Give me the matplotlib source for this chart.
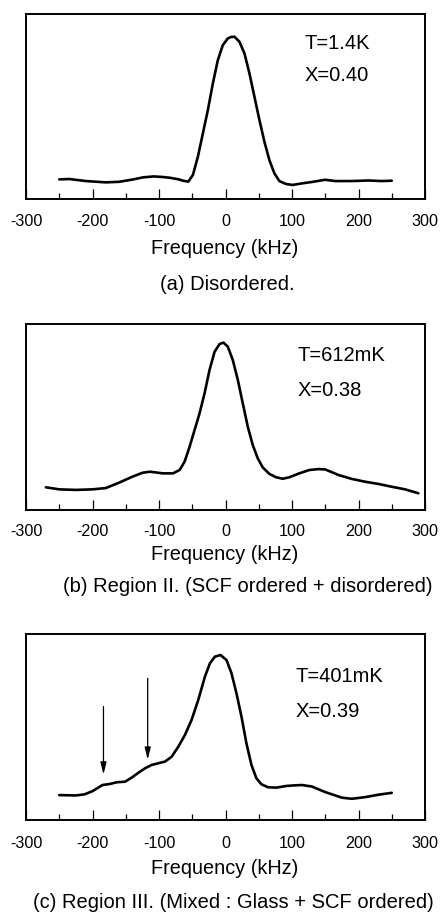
import matplotlib
matplotlib.use("Agg")
import matplotlib.pyplot as plt

plt.rcParams['font.family'] = ['Liberation Sans', 'DejaVu Sans']

# ---------- data (signal as fraction of box height) ----------
freq_a = [-250, -235, -210, -180, -160, -140, -124, -108, -95, -84, -70, -64, -56, -49,
          -41.5, -34, -26.5, -19, -11.5, -4, 3.5, 8.5, 13.5, 21, 28.5, 36, 43.5, 51, 58.5,
          66, 73.5, 81, 91, 101, 116, 130, 150, 165, 190, 215, 235, 250]
sig_a = [0.106, 0.108, 0.097, 0.090, 0.093, 0.105, 0.117, 0.122, 0.119, 0.115, 0.106, 0.099,
         0.094, 0.130, 0.229, 0.355, 0.481, 0.625, 0.751, 0.832, 0.868, 0.876, 0.877, 0.850,
         0.787, 0.679, 0.553, 0.427, 0.310, 0.210, 0.139, 0.097, 0.081, 0.076, 0.085, 0.092,
         0.104, 0.097, 0.097, 0.100, 0.097, 0.099]

freq_b = [-270, -250, -225, -200, -180, -160, -140, -125, -114, -94, -79, -69, -61.5, -54,
          -46.5, -39, -31.5, -24, -16.5, -9, -3, 3.5, 11, 18.5, 26, 33.5, 41, 48.5, 56, 66,
          76, 86, 96, 111, 126, 140, 150, 170, 190, 210, 230, 250, 270, 290]
sig_b = [0.122, 0.111, 0.108, 0.111, 0.118, 0.147, 0.179, 0.200, 0.206, 0.197, 0.197, 0.215,
         0.260, 0.340, 0.430, 0.520, 0.627, 0.753, 0.850, 0.892, 0.900, 0.878, 0.806, 0.700,
         0.573, 0.448, 0.349, 0.278, 0.229, 0.194, 0.176, 0.168, 0.176, 0.197, 0.215, 0.220,
         0.218, 0.188, 0.167, 0.152, 0.140, 0.125, 0.111, 0.090]

freq_c = [-250, -225, -212, -200, -185, -173.5, -163.5, -151, -141, -131, -121, -111, -101,
          -91, -81, -71, -61, -51, -41, -31, -23.5, -16, -7.5, 1.5, 9, 16.5, 24, 31.5, 39,
          46.5, 54, 64, 76.5, 91.5, 103, 115, 130, 150, 175, 190, 210, 230, 250]
sig_c = [0.134, 0.132, 0.138, 0.155, 0.188, 0.194, 0.203, 0.206, 0.228, 0.254, 0.278, 0.296,
         0.305, 0.314, 0.340, 0.394, 0.457, 0.538, 0.645, 0.770, 0.842, 0.878, 0.887, 0.860,
         0.789, 0.681, 0.556, 0.412, 0.296, 0.224, 0.192, 0.176, 0.174, 0.183, 0.186, 0.188,
         0.180, 0.150, 0.120, 0.114, 0.123, 0.136, 0.146]

# arrows in panel (c): x, y start, y end
arrow_x = [-183.5, -117]
arrow_top = [0.61, 0.762]
arrow_tip = [0.245, 0.325]

labels_T = ["T=1.4K", "T=612mK", "T=401mK"]
labels_X = ["X=0.40", "X=0.38", "X=0.39"]
captions = ["(a) Disordered.",
            "(b) Region II. (SCF ordered + disordered)",
            "(c) Region III. (Mixed : Glass + SCF ordered)"]
ticks_major = [-300, -200, -100, 0, 100, 200, 300]
ticks_minor = [-250, -150, -50, 50, 150, 250]

# ---------- layout (pixels of a 440x923 image) ----------
W, H = 440, 923
fig = plt.figure(figsize=(4.4, 9.23), dpi=100)

box_top = [14, 324, 634]
box_bot = [199, 510, 820]
txt_pos = [(118.5, 0.84, 0.67), (108.5, 0.833, 0.645), (105.5, 0.771, 0.584)]
ticklab_y = [222, 532, 843]
xlabel_y = [248, 555, 868]
caption_xy = [(227, 285), (248, 587), (233, 903)]

data = [(freq_a, sig_a), (freq_b, sig_b), (freq_c, sig_c)]

for i in range(3):
    ax = fig.add_axes([26 / W, 1 - box_bot[i] / H, 399 / W, (box_bot[i] - box_top[i]) / H])
    fx, sy = data[i]
    ax.plot(fx, sy, color='black', lw=1.9, solid_joinstyle='round', solid_capstyle='round')
    ax.set_xlim(-300, 300)
    ax.set_ylim(0, 1)
    ax.set_yticks([])
    ax.set_xticks(ticks_major)
    ax.set_xticks(ticks_minor, minor=True)
    ax.set_xticklabels([])
    ax.tick_params(axis='x', which='major', direction='in', length=7.5, width=0.9)
    ax.tick_params(axis='x', which='minor', direction='in', length=4.3, width=0.9)
    for s in ax.spines.values():
        s.set_linewidth(1.4)
    # tick labels placed under the ticks at the measured height
    for t in ticks_major:
        ax.annotate(str(t), xy=(t, 0), xycoords=('data', 'axes fraction'),
                    xytext=(0, -(ticklab_y[i] - box_bot[i]) * 0.72), textcoords='offset points',
                    ha='center', va='center', fontsize=11.6)
    tx, ty1, ty2 = txt_pos[i]
    ax.text(tx, ty1, labels_T[i], fontsize=14.5, ha='left', va='center')
    ax.text(tx, ty2, labels_X[i], fontsize=14.5, ha='left', va='center')
    if i == 2:
        for xa, y0, y1 in zip(arrow_x, arrow_top, arrow_tip):
            ax.annotate("", xy=(xa, y1), xytext=(xa, y0),
                        arrowprops=dict(arrowstyle='-|>,head_length=0.6,head_width=0.15',
                                        lw=0.9, color='black', mutation_scale=12,
                                        shrinkA=0, shrinkB=0))
    fig.text(225 / W, 1 - xlabel_y[i] / H, "Frequency (kHz)", fontsize=14.3,
             ha='center', va='center')
    cx, cy = caption_xy[i]
    fig.text(cx / W, 1 - cy / H, captions[i], fontsize=14.5, ha='center', va='center')

fig.savefig("out.png", dpi=100)
